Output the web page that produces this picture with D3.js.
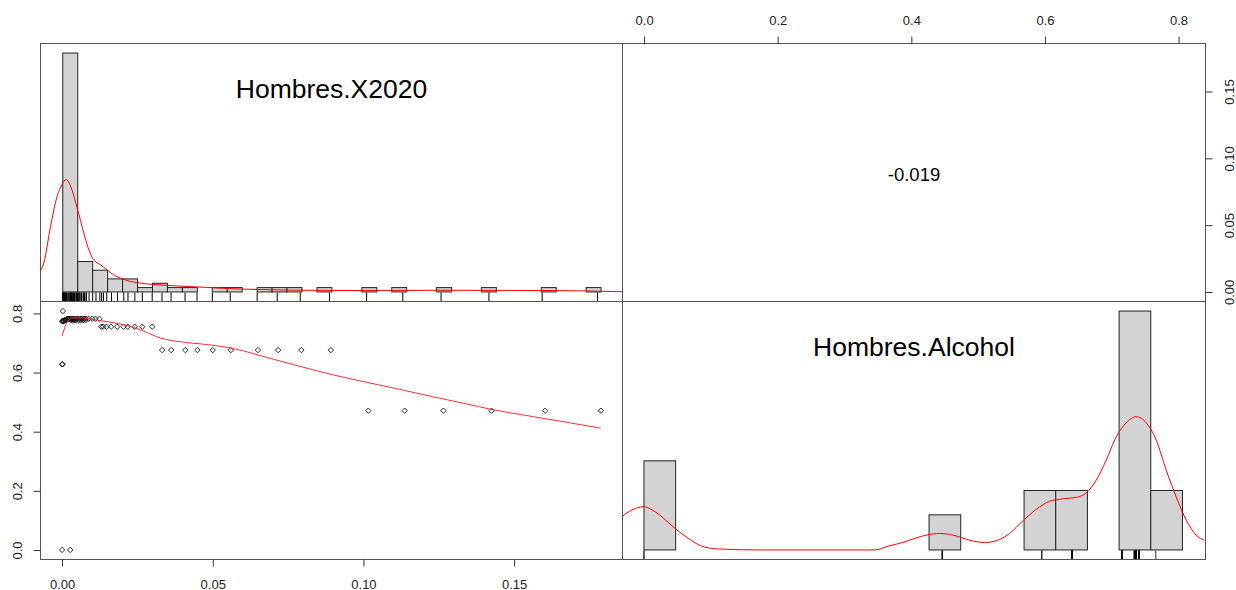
<!DOCTYPE html>
<html>
<head>
<meta charset="utf-8">
<script src="https://cdn.jsdelivr.net/npm/d3@7"></script>
<style>
  body { margin: 0; background: #fff; }
  text { font-family: "Liberation Sans", Arial, sans-serif; }
</style>
</head>
<body>
<div id="grafico"></div>
<script>
// Nombres de las variables y correlación
const nombres = ["Hombres.X2020", "Hombres.Alcohol"];
const correlacion = "-0.019";

// Observaciones (X2020, Alcohol)
const x2020 = [
  0.0000, 0.0027,
  0.0000, 0.0002,
  0.0003,
  0.1016, 0.1137, 0.1265, 0.1425, 0.1603, 0.1788,
  0.0332, 0.0362, 0.0409, 0.0449, 0.0500, 0.0560, 0.0650, 0.0717, 0.0794, 0.0892,
  0.0130, 0.0136, 0.0147, 0.0163, 0.0183, 0.0204, 0.0218, 0.0241, 0.0266, 0.0299,
  0.0000, 0.0002, 0.0004, 0.0006, 0.0008, 0.0010, 0.0012, 0.0014, 0.0017, 0.0020, 0.0023, 0.0026,
  0.0029, 0.0032, 0.0035, 0.0038, 0.0041, 0.0045, 0.0049, 0.0053, 0.0058, 0.0063, 0.0068, 0.0073, 0.0079,
  0.0029, 0.0034, 0.0040, 0.0047, 0.0055, 0.0062, 0.0070, 0.0078,
  0.0088, 0.0100, 0.0111, 0.0124
];
const alcohol = [
  0.000, 0.000,
  0.628, 0.628,
  0.808,
  0.471, 0.471, 0.471, 0.471, 0.471, 0.471,
  0.676, 0.676, 0.676, 0.676, 0.676, 0.676, 0.676, 0.676, 0.676, 0.676,
  0.755, 0.755, 0.755, 0.755, 0.755, 0.755, 0.755, 0.755, 0.755, 0.755,
  0.774, 0.774, 0.774, 0.774, 0.777, 0.777, 0.777, 0.777, 0.782, 0.782, 0.782, 0.782,
  0.782, 0.782, 0.782, 0.782, 0.782, 0.782, 0.782, 0.782, 0.782, 0.782, 0.782, 0.782, 0.782,
  0.777, 0.777, 0.777, 0.777, 0.777, 0.777, 0.777, 0.777,
  0.782, 0.782, 0.782, 0.782
];

// Histogramas (ancho de clase y conteos)
const anchoX = 0.005;
const conteosX = [55, 7, 5, 3, 3, 1, 2, 1, 1, 0, 1, 1, 0, 1, 1, 1, 0, 1, 0, 0,
  1, 0, 1, 0, 0, 1, 0, 0, 1, 0, 0, 0, 1, 0, 0, 1];
const anchoA = 0.05;
const alturasA = [0.373, 0, 0, 0, 0, 0, 0, 0, 0, 0.147, 0, 0, 0.249, 0.249, 0, 1, 0.249];

// Curvas de densidad
const densXx = [-0.00745, -0.00635, -0.0041, -0.0019, -0.0002, 0.0011, 0.0026, 0.0048, 0.0070, 0.0087,
  0.0103, 0.0126, 0.0170, 0.0215, 0.0260, 0.0371, 0.0482, 0.0594, 0.0928, 0.1295, 0.1629, 0.1870];
const densXy = [0.089, 0.121, 0.274, 0.40, 0.45, 0.471, 0.443, 0.352, 0.248, 0.177,
  0.135, 0.114, 0.072, 0.048, 0.037, 0.026, 0.019, 0.012, 0.006, 0.007, 0.006, 0.001];
const densAx = [-0.035, -0.0193, -0.0008, 0.0175, 0.0491, 0.0702, 0.0912, 0.1175, 0.1827, 0.3646,
  0.3858, 0.4120, 0.4194, 0.4457, 0.4667, 0.4877, 0.5140, 0.5377, 0.5614, 0.5772,
  0.5981, 0.6193, 0.6403, 0.6613, 0.6824, 0.6982, 0.7139, 0.7297, 0.7455, 0.7613,
  0.7771, 0.7928, 0.8086, 0.8244, 0.8402, 0.8559, 0.8717, 0.8848];
const densAy = [0.139, 0.167, 0.181, 0.160, 0.090, 0.048, 0.016, 0.004, 0.000, 0.000,
  0.016, 0.034, 0.041, 0.062, 0.069, 0.062, 0.041, 0.031, 0.044, 0.069,
  0.122, 0.170, 0.204, 0.214, 0.220, 0.239, 0.292, 0.376, 0.474, 0.532,
  0.558, 0.532, 0.460, 0.334, 0.222, 0.125, 0.062, 0.041];

// Curva loess del diagrama de dispersión
const loessX = [0.0000, 0.0011, 0.0022, 0.0033, 0.0061, 0.0105, 0.0149, 0.0216, 0.0271, 0.0326,
  0.0392, 0.0458, 0.0525, 0.0569, 0.0635, 0.0701, 0.0767, 0.0900, 0.1011,
  0.1121, 0.1231, 0.1342, 0.1422, 0.1562, 0.1673, 0.1787];
const loessY = [0.723, 0.757, 0.777, 0.785, 0.785, 0.779, 0.772, 0.759, 0.740, 0.717,
  0.704, 0.697, 0.689, 0.681, 0.664, 0.645, 0.627, 0.592, 0.567,
  0.543, 0.518, 0.494, 0.476, 0.451, 0.432, 0.412];

// Marcas de los ejes
const ticksX = [0, 0.05, 0.10, 0.15];
const ticksA = [0, 0.2, 0.4, 0.6, 0.8];

// Dominios x usados dentro de los paneles diagonales
const histDomX = [-0.00745, 0.18717];
const histDomA = [-0.0339, 0.8864];

const width = 1236;
const height = 590;
const L = 40.5, M = 622.5, R = 1205.5;
const T = 43.5, C = 301.5, B = 559.5;

const svg = d3.select("#grafico").append("svg")
  .attr("width", width).attr("height", height);

const pad = (e) => { const r = e[1] - e[0]; return [e[0] - 0.04 * r, e[1] + 0.04 * r]; };

const xX = d3.scaleLinear().domain(pad(d3.extent(x2020))).range([L, M]);
const yX = d3.scaleLinear().domain(pad(d3.extent(x2020))).range([C, T]);
const xA = d3.scaleLinear().domain(pad(d3.extent(alcohol))).range([M, R]);
const yA = d3.scaleLinear().domain(pad(d3.extent(alcohol))).range([B, C]);

const hX = d3.scaleLinear().domain(histDomX).range([L, M]);
const hA = d3.scaleLinear().domain(histDomA).range([M, R]);
const dTop = d3.scaleLinear().domain([-0.04, 1.04]).range([C, T]);
const dBot = d3.scaleLinear().domain([-0.04, 1.04]).range([B, C]);

// Recortes de los paneles
const defs = svg.append("defs");
[["clipTL", L, T, M, C], ["clipBL", L, C, M, B], ["clipBR", M, C, R, B]].forEach(([id, x0, y0, x1, y1]) => {
  defs.append("clipPath").attr("id", id).append("rect")
    .attr("x", x0).attr("y", y0).attr("width", x1 - x0).attr("height", y1 - y0);
});

// Panel diagonal 1: histograma X2020
const maxX = d3.max(conteosX);
const gTL = svg.append("g").attr("clip-path", "url(#clipTL)");
gTL.selectAll("rect").data(conteosX).join("rect")
  .attr("x", (d, i) => hX(i * anchoX))
  .attr("y", (d) => dTop(d / maxX))
  .attr("width", (d, i) => hX((i + 1) * anchoX) - hX(i * anchoX))
  .attr("height", (d) => dTop(0) - dTop(d / maxX))
  .attr("fill", "#d3d3d3").attr("stroke", "#222").attr("stroke-width", 1);

gTL.append("path")
  .datum(densXx.map((v, i) => [v, densXy[i]]))
  .attr("d", d3.line().x((d) => hX(d[0])).y((d) => dTop(d[1])).curve(d3.curveMonotoneX))
  .attr("fill", "none").attr("stroke", "red").attr("stroke-width", 1);

gTL.selectAll("line.rug").data(x2020).join("line").attr("class", "rug")
  .attr("x1", (d) => hX(d)).attr("x2", (d) => hX(d))
  .attr("y1", C).attr("y2", C - 9)
  .attr("stroke", "#000").attr("stroke-width", 1);

// Panel diagonal 2: histograma Alcohol
const gBR = svg.append("g").attr("clip-path", "url(#clipBR)");
gBR.selectAll("rect").data(alturasA).join("rect")
  .attr("x", (d, i) => hA(i * anchoA))
  .attr("y", (d) => dBot(d))
  .attr("width", (d, i) => hA((i + 1) * anchoA) - hA(i * anchoA))
  .attr("height", (d) => dBot(0) - dBot(d))
  .attr("fill", "#d3d3d3").attr("stroke", "#222").attr("stroke-width", 1);

gBR.append("path")
  .datum(densAx.map((v, i) => [v, densAy[i]]))
  .attr("d", d3.line().x((d) => hA(d[0])).y((d) => dBot(d[1])).curve(d3.curveMonotoneX))
  .attr("fill", "none").attr("stroke", "red").attr("stroke-width", 1);

gBR.selectAll("line.rug").data(alcohol).join("line").attr("class", "rug")
  .attr("x1", (d) => hA(d)).attr("x2", (d) => hA(d))
  .attr("y1", B).attr("y2", B - 9)
  .attr("stroke", "#000").attr("stroke-width", 0.8);

// Panel inferior izquierdo: dispersión
const gBL = svg.append("g").attr("clip-path", "url(#clipBL)");
const r = 2.7;
gBL.selectAll("path.pt").data(x2020.map((v, i) => [v, alcohol[i]])).join("path")
  .attr("class", "pt")
  .attr("d", `M0,${-r}L${r},0L0,${r}L${-r},0Z`)
  .attr("transform", (d) => `translate(${xX(d[0])},${yA(d[1])})`)
  .attr("fill", "none").attr("stroke", "#111").attr("stroke-width", 0.9);

gBL.append("path")
  .datum(loessX.map((v, i) => [v, loessY[i]]))
  .attr("d", d3.line().x((d) => xX(d[0])).y((d) => yA(d[1])).curve(d3.curveMonotoneX))
  .attr("fill", "none").attr("stroke", "#f0303c").attr("stroke-width", 1);

// Títulos y correlación
svg.append("text").attr("x", (L + M) / 2).attr("y", T + 54)
  .attr("text-anchor", "middle").style("font-size", "26.5px").attr("fill", "#000")
  .text(nombres[0]);
svg.append("text").attr("x", (M + R) / 2).attr("y", C + 54)
  .attr("text-anchor", "middle").style("font-size", "26.5px").attr("fill", "#000")
  .text(nombres[1]);
svg.append("text").attr("x", (M + R) / 2).attr("y", (T + C) / 2 + 8)
  .attr("text-anchor", "middle").style("font-size", "18.5px").attr("fill", "#000")
  .text(correlacion);

// Cajas de los paneles
[[L, T, M, C], [M, T, R, C], [L, C, M, B], [M, C, R, B]].forEach(([x0, y0, x1, y1]) => {
  svg.append("rect").attr("x", x0).attr("y", y0)
    .attr("width", x1 - x0).attr("height", y1 - y0)
    .attr("fill", "none").attr("stroke", "#555").attr("stroke-width", 1);
});

// Ejes
function estilo(g) {
  g.select(".domain").remove();
  g.selectAll(".tick line").attr("stroke", "#333");
  g.selectAll("text").attr("fill", "#222").style("font-size", "13px");
}

svg.append("g").attr("transform", `translate(0,${B})`)
  .call(d3.axisBottom(xX).tickValues(ticksX).tickFormat(d3.format(".2f")).tickSize(7))
  .call(estilo)
  .selectAll("text").attr("y", 29).attr("dy", null);

svg.append("g").attr("transform", `translate(0,${T})`)
  .call(d3.axisTop(xA).tickValues(ticksA).tickFormat(d3.format(".1f")).tickSize(7))
  .call(estilo)
  .selectAll("text").attr("y", -18.5).attr("dy", null);

svg.append("g").attr("transform", `translate(${L},0)`)
  .call(d3.axisLeft(yA).tickValues(ticksA).tickFormat(d3.format(".1f")).tickSize(7))
  .call(estilo)
  .selectAll("text")
  .attr("transform", "rotate(-90)").attr("x", 0).attr("y", -18.5)
  .attr("dy", null).attr("text-anchor", "middle");

svg.append("g").attr("transform", `translate(${R},0)`)
  .call(d3.axisRight(yX).tickValues(ticksX).tickFormat(d3.format(".2f")).tickSize(7))
  .call(estilo)
  .selectAll("text")
  .attr("transform", "rotate(-90)").attr("x", 0).attr("y", 28)
  .attr("dy", null).attr("text-anchor", "middle");
</script>
</body>
</html>
